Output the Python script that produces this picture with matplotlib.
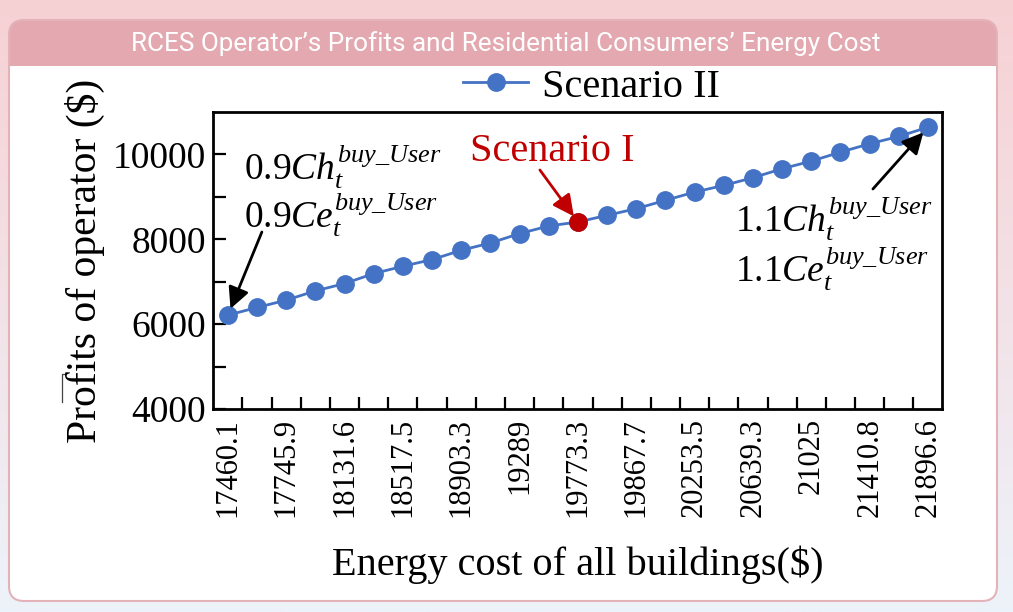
import numpy as np
import matplotlib
matplotlib.use("Agg")
import matplotlib.pyplot as plt
from matplotlib.patches import FancyBboxPatch, Rectangle
from matplotlib.lines import Line2D
from matplotlib.ticker import FixedLocator

# ---------------- data ----------------
cost_labels = ["17460.1", "17745.9", "18131.6", "18517.5", "18903.3", "19289",
               "19773.3", "19867.7", "20253.5", "20639.3", "21025", "21410.8",
               "21896.6"]
profits = [6212, 6393, 6565, 6784, 6957, 7192, 7365, 7522, 7741, 7913,
           8134, 8314, 8408, 8565, 8722, 8918, 9113, 9270, 9451, 9663,
           9842, 10054, 10251, 10424, 10642]
scenario1_index = 12
series_name = "Scenario II"
title = "RCES Operator\u2019s Profits and Residential Consumers\u2019 Energy Cost"
xlabel = "Energy cost of all buildings($)"
ylabel = "Profits of operator ($)"

# ---------------- style ----------------
W, H = 1013, 612
plt.rcParams["mathtext.fontset"] = "custom"
plt.rcParams["mathtext.rm"] = "Liberation Serif"
plt.rcParams["mathtext.it"] = "Liberation Serif:italic"
plt.rcParams["mathtext.bf"] = "Liberation Serif:bold"
serif = "Liberation Serif"
blue = "#4472C4"
red = "#C00000"

fig = plt.figure(figsize=(W / 100, H / 100), dpi=100)

# background + card
bg = fig.add_axes([0, 0, 1, 1])
bg.set_xlim(0, W)
bg.set_ylim(H, 0)
bg.axis("off")
top_c = np.array([0xf7, 0xd1, 0xd4]) / 255
bot_c = np.array([0xed, 0xf3, 0xfa]) / 255
t = np.linspace(0, 1, 256)[:, None]
grad = top_c[None, None, :] * (1 - t[..., None]) + bot_c[None, None, :] * t[..., None]
grad = np.repeat(grad, 2, axis=1)
bg.imshow(grad, extent=[0, W, H, 0], aspect="auto", zorder=0)

cx0, cy0, cx1, cy1 = 9, 20, 997, 601
r = 15
head_c = "#e4a9b0"
bg.add_patch(FancyBboxPatch((cx0, cy0), cx1 - cx0, cy1 - cy0,
                            boxstyle=f"round,pad=0,rounding_size={r}",
                            fc=head_c, ec="none", zorder=1))
bg.add_patch(FancyBboxPatch((cx0, 66), cx1 - cx0, cy1 - 66,
                            boxstyle=f"round,pad=0,rounding_size={r}",
                            fc="white", ec="none", zorder=2))
bg.add_patch(Rectangle((cx0, 66), cx1 - cx0, 30, fc="white", ec="none", zorder=2))
bg.add_patch(FancyBboxPatch((cx0, cy0), cx1 - cx0, cy1 - cy0,
                            boxstyle=f"round,pad=0,rounding_size={r}",
                            fc="none", ec="#e3b3b9", lw=1.5, zorder=3))
tt = bg.text(506, 44, title, color="white", fontsize=16, family="Roboto",
             ha="center", va="center", zorder=4)
fig.canvas.draw()
wpx = tt.get_window_extent().width
tt.set_fontsize(16 * 752 / wpx)

# small artifact mark near y-label
bg.add_line(Line2D([62, 62, 66], [402, 374, 374], color="#444444", lw=0.9, zorder=4))

# ---------------- main plot ----------------
L, R, T, B = 212.7, 942, 112, 409
ax = fig.add_axes([L / W, 1 - B / H, (R - L) / W, (B - T) / H])
x = np.arange(len(profits))
ax.plot(x, profits, "-o", color=blue, lw=2.0, ms=12.5, mec=blue, mfc=blue,
        label=series_name, zorder=3)
ax.plot(x[scenario1_index], profits[scenario1_index], "o", color=red, ms=12.5, zorder=4)

ax.set_xlim(-0.52, len(profits) - 1 + 0.48)
ax.set_ylim(4000, 11000)

ax.set_xticks(x[::2])
ax.set_xticklabels(cost_labels, rotation=90, family=serif, fontsize=22, va="top")
ax.tick_params(axis="x", which="major", length=0, pad=6.5)
ax.xaxis.set_minor_locator(FixedLocator(x[:-1] + 0.5))
ax.tick_params(axis="x", which="minor", direction="in", length=8.5, width=1.6)

ax.set_yticks([4000, 6000, 8000, 10000])
ax.set_yticklabels(["4000", "6000", "8000", "10000"], family=serif, fontsize=27)
ax.yaxis.set_minor_locator(FixedLocator([5000, 7000, 9000]))
ax.tick_params(axis="y", which="both", direction="in", length=9.5, width=1.6, pad=5)

for s in ax.spines.values():
    s.set_linewidth(2.0)

ax.set_xlabel(xlabel, family=serif, fontsize=29)
ax.xaxis.set_label_coords(0.5, -0.46)
ax.set_ylabel(ylabel, family=serif, fontsize=30)
ax.yaxis.set_label_coords(-0.148, 0.5)

def px2data(px, py):
    return ((px - 228) / 29.17, 4000 + (B - py) / (B - T) * 7000)

# annotations
mt = dict(fontsize=27, color="black", ha="left", va="baseline")
ax.text(*px2data(244, 180), r"$0.9Ch_t^{buy\_User}$", **mt)
ax.text(*px2data(244, 228), r"$0.9Ce_t^{buy\_User}$", **mt)
ax.text(*px2data(735, 232), r"$1.1Ch_t^{buy\_User}$", **mt)
ax.text(*px2data(735, 282), r"$1.1Ce_t^{buy\_User}$", **mt)

arw = dict(arrowstyle="-|>", lw=2.0, mutation_scale=32, shrinkA=0, shrinkB=5)
ax.annotate("", xy=(x[0], profits[0]), xytext=px2data(262, 232),
            arrowprops=dict(color="black", **arw))
ax.annotate("", xy=(x[-1], profits[-1]), xytext=px2data(873, 189),
            arrowprops=dict(color="black", **arw))
ax.annotate("", xy=(x[scenario1_index], profits[scenario1_index]),
            xytext=px2data(540, 170), arrowprops=dict(color=red, **arw))
ax.text(*px2data(470, 161), "Scenario I", family=serif, fontsize=29, color=red,
        ha="left", va="baseline")

ax.legend(loc="center", bbox_to_anchor=(591.5 / W, 1 - 87 / H),
          bbox_transform=fig.transFigure, frameon=False,
          prop={"family": serif, "size": 29}, handlelength=1.6,
          handletextpad=0.35, borderpad=0, borderaxespad=0)

fig.savefig("out.png", dpi=100)
